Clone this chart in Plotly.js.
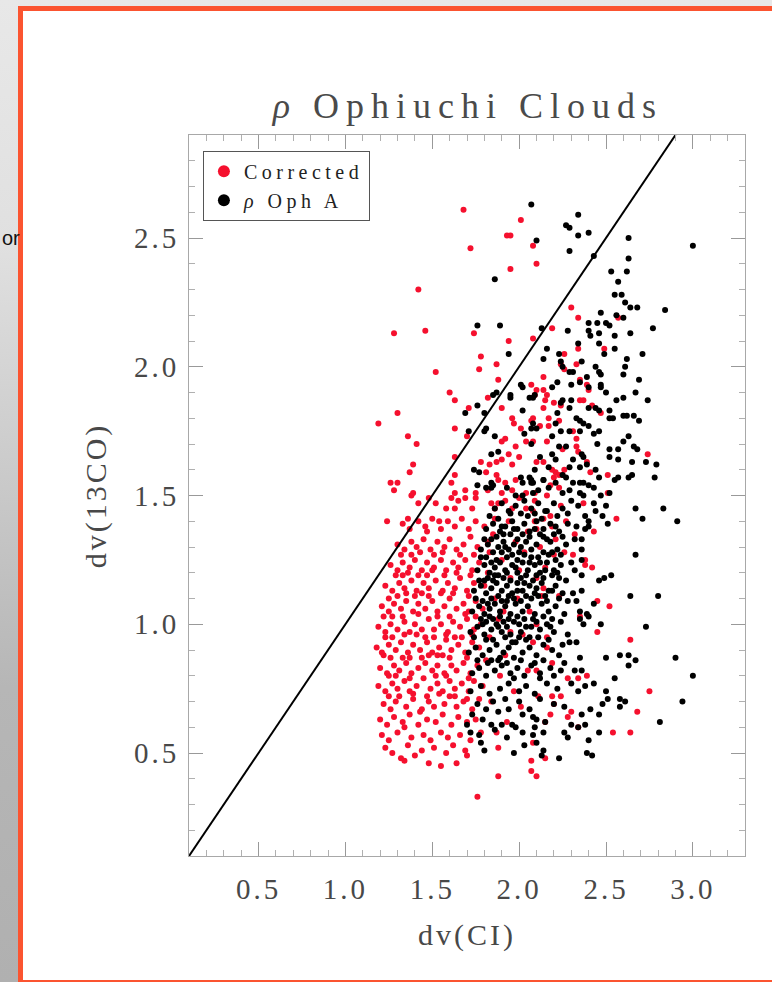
<!DOCTYPE html>
<html>
<head>
<meta charset="utf-8">
<script src="https://cdn.plot.ly/plotly-3.0.1.min.js"></script>
<style>
  html, body { margin: 0; padding: 0; width: 772px; height: 982px; overflow: hidden;
    background: linear-gradient(to bottom, #e8e8e8 0%, #e0e0e0 25%, #b6b6b6 70%, #b0b0b0 100%); }
  #frame { position: absolute; left: 18px; top: 6px; width: 800px; height: 979px;
    box-sizing: border-box; border: 5px solid #fb5430; background: #ffffff; }
  #chart { position: absolute; left: 0; top: 0; width: 772px; height: 982px; }
  .xtick text, .ytick text { letter-spacing: 3px; }
  .gtitle { letter-spacing: 7px; }
  .xtitle, .ytitle { letter-spacing: 3px; }
  .legendtext { letter-spacing: 4.5px; }
</style>
</head>
<body>
<div id="frame"></div>
<div id="chart"></div>
<script>
// dv(CI) vs dv(13CO) line widths, rho Ophiuchi clouds.
// Points are [dv(CI), dv(13CO)] in km/s.

// Corrected sample: scattered points above the main cloud
const correctedUpper = [
  [1.68,2.61],[2.01,2.57],[1.93,2.51],[1.95,2.51],[1.72,2.46],[2.08,2.47],[1.95,2.38],[2.10,2.40],
  [1.42,2.30],[1.28,2.13],[1.46,2.14],[1.74,2.13],[1.94,2.10],[2.08,2.11],[1.78,2.04],[1.77,1.99],
  [1.87,2.01],[1.52,1.98],[1.88,1.95],[1.60,1.90],[1.63,1.87],[1.82,1.88],[1.71,1.84],[1.30,1.82],
  [1.19,1.78],[1.63,1.76],[1.36,1.73],[1.41,1.70],[1.70,1.73],[1.63,1.65],[1.39,1.62],[1.37,1.59],
  [1.63,1.58],[1.26,1.55],[1.30,1.55],[1.28,1.52],[1.39,1.51],[1.61,1.55],
  [1.90,1.84],[1.96,1.80],[1.97,1.78],[2.01,1.76],[2.07,1.79],[2.04,1.71],[1.92,1.72],[1.90,1.71],
  [1.98,1.69],[1.94,1.66],[2.00,1.65],[1.83,1.62],[1.87,1.63],[1.90,1.64],[1.78,1.63],[1.96,1.62],
  [1.81,1.59],[1.87,1.58],[1.88,1.56],[1.92,1.55],[1.98,1.56],[1.96,1.52],[2.04,1.51],[1.82,1.52],
  [1.90,1.51],[1.75,1.51],[1.69,1.52],[1.63,1.51],
  [2.30,2.23],[2.34,2.19],[2.57,2.19],[2.19,2.15],[2.49,2.07],[2.34,2.07],[2.26,2.05],[2.24,2.01],
  [2.26,1.99],[2.33,2.01],[2.14,1.96],[2.35,1.95],[2.39,1.93],[2.40,1.91],[2.07,1.93],[2.10,1.91],
  [2.14,1.91],[2.16,1.89],[2.09,1.89],[2.15,1.87],[2.20,1.86],[2.24,1.85],[2.14,1.84],[2.35,1.87],
  [2.37,1.87],[2.42,1.85],[2.47,1.82],[2.23,1.79],[2.17,1.80],[2.08,1.80],[2.12,1.77],[2.17,1.77],
  [2.31,1.75],[2.33,1.72],[2.25,1.68],[2.33,1.69],[2.16,1.71],[2.08,1.71],[2.34,1.67],[2.39,1.63],
  [2.10,1.63],[2.14,1.63],[2.19,1.60],[2.21,1.59],[2.23,1.58],[2.25,1.58],[2.20,1.57],[2.26,1.60],
  [2.41,1.59],[2.74,1.66],[2.51,1.58],[2.51,1.51],[2.09,1.51],[2.16,1.50],[2.18,1.54],[2.23,1.53]
];

// Corrected sample: the main cloud and its lower fringe
const correctedCore = [
  [1.76,0.33],[1.88,0.41],[1.48,0.46],[1.55,0.45],[1.64,0.46],[1.32,0.48],[1.34,0.47],[1.58,0.50],[1.70,0.49],
  [1.23,0.52],[1.27,0.50],[1.36,0.53],[1.44,0.51],[1.51,0.52],[1.62,0.53],[1.69,0.51],[1.40,0.49],
  [1.21,0.57],[1.25,0.55],[1.30,0.58],[1.38,0.56],[1.45,0.57],[1.49,0.55],[1.55,0.58],[1.59,0.56],
  [1.66,0.57],[1.72,0.55],[1.78,0.58],[1.34,0.60],
  [1.20,0.63],[1.24,0.61],[1.28,0.64],[1.33,0.62],[1.37,0.65],[1.42,0.61],[1.47,0.63],[1.52,0.62],
  [1.56,0.65],[1.61,0.61],[1.65,0.64],[1.70,0.62],[1.75,0.63],[1.43,0.66],
  [1.22,0.69],[1.26,0.67],[1.29,0.70],[1.35,0.68],[1.39,0.71],[1.44,0.67],[1.48,0.70],[1.51,0.68],
  [1.57,0.69],[1.60,0.72],[1.64,0.68],[1.68,0.70],[1.73,0.67],[1.77,0.71],[1.31,0.72],[1.54,0.73],
  [1.25,0.72],[1.39,0.73],[1.47,0.72],[1.63,0.72],[1.70,0.71],
  [1.19,0.76],[1.23,0.74],[1.27,0.77],[1.30,0.75],[1.34,0.78],[1.37,0.74],[1.41,0.76],[1.45,0.79],
  [1.49,0.75],[1.53,0.77],[1.56,0.74],[1.60,0.78],[1.63,0.75],[1.67,0.77],[1.71,0.74],[1.74,0.78],
  [1.79,0.76],[1.25,0.80],
  [1.29,0.80],[1.37,0.79],[1.52,0.80],[1.58,0.80],[1.71,0.79],
  [1.20,0.83],[1.24,0.81],[1.28,0.84],[1.31,0.82],[1.35,0.85],[1.38,0.81],[1.42,0.83],[1.46,0.85],
  [1.50,0.82],[1.53,0.84],[1.57,0.81],[1.61,0.84],[1.64,0.82],[1.68,0.85],[1.72,0.81],[1.76,0.84],
  [1.33,0.87],[1.48,0.88],[1.22,0.88],
  [1.26,0.87],[1.37,0.87],[1.44,0.87],[1.53,0.88],[1.60,0.87],[1.70,0.87],
  [1.18,0.91],[1.21,0.89],[1.25,0.92],[1.29,0.90],[1.32,0.93],[1.36,0.89],[1.39,0.92],[1.43,0.90],
  [1.47,0.93],[1.50,0.89],[1.54,0.91],[1.58,0.94],[1.61,0.90],[1.65,0.92],[1.69,0.89],[1.73,0.93],
  [1.77,0.91],[1.27,0.95],[1.41,0.96],[1.56,0.88],[1.63,0.95],
  [1.23,0.95],[1.34,0.96],[1.51,0.95],[1.58,0.96],[1.73,0.96],
  [1.19,0.99],[1.23,0.97],[1.26,1.00],[1.30,0.98],[1.34,1.01],[1.37,0.97],[1.40,1.00],[1.44,0.98],
  [1.48,1.02],[1.51,0.98],[1.55,1.00],[1.59,0.97],[1.62,1.01],[1.66,0.99],[1.70,1.02],[1.74,0.98],
  [1.78,1.00],[1.22,1.03],[1.46,0.95],[1.67,0.95],
  [1.27,1.03],[1.33,1.03],[1.42,1.04],[1.53,1.03],[1.60,1.03],[1.69,1.04],[1.75,1.03],
  [1.21,1.07],[1.25,1.05],[1.28,1.08],[1.32,1.06],[1.35,1.09],[1.39,1.05],[1.42,1.08],[1.46,1.06],
  [1.50,1.09],[1.53,1.05],[1.57,1.07],[1.60,1.10],[1.64,1.06],[1.68,1.08],[1.71,1.05],[1.75,1.09],
  [1.30,1.11],[1.44,1.12],[1.55,1.12],[1.79,1.06],
  [1.25,1.10],[1.35,1.12],[1.40,1.11],[1.48,1.11],[1.62,1.12],[1.71,1.11],
  [1.23,1.15],[1.27,1.13],[1.31,1.16],[1.34,1.14],[1.38,1.17],[1.41,1.13],[1.45,1.16],[1.48,1.14],
  [1.52,1.17],[1.56,1.13],[1.59,1.16],[1.63,1.14],[1.66,1.18],[1.70,1.13],[1.74,1.16],[1.80,1.15],
  [1.36,1.20],[1.50,1.21],
  [1.29,1.19],[1.33,1.19],[1.42,1.19],[1.47,1.19],[1.57,1.19],[1.64,1.20],[1.72,1.19],
  [1.26,1.23],[1.30,1.21],[1.33,1.24],[1.37,1.22],[1.40,1.25],[1.44,1.21],[1.47,1.24],[1.51,1.22],
  [1.55,1.25],[1.58,1.21],[1.62,1.24],[1.65,1.22],[1.69,1.25],[1.73,1.21],[1.77,1.24],[1.43,1.28],
  [1.32,1.27],[1.38,1.27],[1.51,1.27],[1.56,1.28],[1.66,1.27],[1.74,1.27],
  [1.30,1.31],[1.34,1.29],[1.38,1.32],[1.41,1.30],[1.45,1.33],[1.49,1.29],[1.53,1.32],[1.57,1.30],
  [1.60,1.33],[1.64,1.29],[1.68,1.31],[1.72,1.34],[1.76,1.30],[1.82,1.32],[1.47,1.36],
  [1.33,1.39],[1.37,1.37],[1.42,1.40],[1.46,1.38],[1.50,1.41],[1.55,1.37],[1.59,1.40],[1.63,1.38],
  [1.67,1.41],[1.71,1.37],[1.75,1.40],[1.80,1.38],[1.86,1.41],
  [1.38,1.50],[1.42,1.47],[1.48,1.49],[1.52,1.47],[1.61,1.49],[1.65,1.48],[1.69,1.49],[1.75,1.49],
  [1.58,1.45],[1.63,1.45],[1.73,1.45],[1.84,1.47],[1.88,1.47],[1.92,1.48],[2.00,1.49],[2.04,1.45],
  [2.08,1.44],[1.36,1.41],[1.24,1.40],[1.54,1.40]
];

// Corrected sample: points mixed into the rho Oph A cloud and to its right
const correctedMixed = [
  [1.83,0.95],[1.88,1.02],[1.92,0.88],[1.86,1.10],[1.95,1.18],[1.90,1.25],[1.98,1.32],[2.03,1.28],
  [1.85,1.35],[1.94,1.40],[2.05,1.36],[2.12,1.30],[1.89,0.80],[1.97,0.74],[2.02,0.96],[2.06,1.05],
  [1.84,0.70],[1.93,0.62],[2.01,0.68],[1.82,1.20],[1.99,1.10],[2.15,1.22],[2.10,1.00],[1.87,0.58],
  [2.18,1.42],[2.21,1.33],[1.96,1.45],[2.24,1.46],[1.81,0.86],[1.91,1.05],[2.00,1.21],[1.86,1.45],
  [2.09,1.40],[1.95,0.97],[2.13,1.11],[1.83,1.28],[2.27,1.40],[2.05,0.82],[1.88,0.52],[2.16,0.95],
  [2.56,1.41],[2.43,1.36],[2.38,1.25],[2.38,1.23],[2.42,1.22],[2.45,1.09],[2.52,1.07],[2.35,1.03],
  [2.45,0.97],[2.64,0.94],[2.39,0.80],[2.34,0.79],[2.28,0.79],[2.75,0.74],[2.68,0.66],[2.54,0.58],
  [2.64,0.58],[2.30,0.66],[2.28,0.64],[2.34,0.60],[2.18,0.65],[2.15,0.62],[2.19,0.72],[2.24,0.72],
  [2.20,0.69],[2.11,0.72],[2.15,0.48],[2.07,0.47],[2.07,0.43],[2.10,0.41],[2.08,0.54],[2.09,1.48],
  [2.14,1.41],[2.10,1.37],[2.19,1.38],[2.26,1.28],[2.20,1.27],[2.10,1.18],[2.14,1.14],[2.23,1.11],
  [2.08,0.93],[2.16,0.91],[2.19,0.85],[2.10,0.82],[2.31,1.27],[2.37,1.47],[2.32,1.35]
];

// rho Oph A: upper branch along and right of the diagonal
const ophAUpper = [
  [2.07,2.63],[2.10,2.49],[1.86,2.34],[1.76,2.16],[1.89,2.16],[1.94,2.05],[2.01,1.93],[2.02,1.92],
  [1.95,1.89],[1.95,1.88],[1.85,1.89],[1.87,1.90],[2.08,1.88],[1.76,1.85],[2.02,1.83],[1.69,1.82],
  [1.80,1.82],[1.71,1.75],[1.80,1.75],[1.81,1.76],[1.86,1.73],[2.07,1.76],[2.10,1.76],[2.03,1.74],
  [1.88,1.67],[1.84,1.66],[1.74,1.60],[1.77,1.59],[2.01,1.57],[2.06,1.57],[2.07,1.56],[2.02,1.55],
  [2.08,1.55],[1.76,1.54],[1.84,1.55],[1.84,1.53],[1.85,1.54],[1.81,1.53],[1.98,1.50],[2.02,1.50],
  [2.08,1.51],
  [2.34,2.59],[2.27,2.55],[2.29,2.54],[2.34,2.51],[2.40,2.52],[2.63,2.50],[3.00,2.47],[2.29,2.45],
  [2.43,2.43],[2.63,2.42],[2.53,2.37],[2.62,2.37],[2.57,2.33],[2.55,2.28],[2.59,2.28],[2.61,2.25],
  [2.68,2.23],[2.64,2.23],[2.84,2.22],[2.47,2.21],[2.56,2.20],[2.60,2.19],[2.40,2.17],[2.45,2.17],
  [2.50,2.17],[2.52,2.16],[2.77,2.15],[2.13,2.15],[2.28,2.14],[2.40,2.14],[2.41,2.12],[2.46,2.13],
  [2.55,2.12],[2.64,2.13],[2.46,2.09],[2.34,2.09],[2.16,2.07],[2.55,2.07],[2.49,2.05],[2.23,2.05],
  [2.71,2.05],[2.14,2.03],[2.62,2.03],[2.36,2.02],[2.24,2.02],[2.25,2.00],[2.31,1.98],[2.29,1.98],
  [2.61,2.00],[2.44,2.00],[2.46,1.98],[2.47,1.97],[2.39,1.96],[2.35,1.94],[2.60,1.97],[2.69,1.95],
  [2.47,1.93],[2.47,1.92],[2.22,1.94],[2.19,1.92],[2.30,1.93],[2.50,1.90],[2.67,1.90],[2.40,1.92],
  [2.56,1.87],[2.60,1.88],[2.74,1.87],[2.25,1.87],[2.24,1.86],[2.30,1.87],[2.29,1.84],[2.09,1.89],
  [2.40,1.84],[2.44,1.84],[2.46,1.83],[2.52,1.83],[2.60,1.81],[2.62,1.81],[2.66,1.81],[2.69,1.79],
  [2.52,1.80],[2.54,1.80],[2.33,1.80],[2.35,1.79],[2.37,1.78],[2.40,1.77],[2.22,1.82],[2.21,1.78],
  [2.24,1.75],[2.19,1.73],[2.43,1.74],[2.46,1.75],[2.29,1.75],[2.35,1.75],[2.63,1.73],[2.60,1.71],
  [2.45,1.70],[2.52,1.68],[2.57,1.68],[2.66,1.69],[2.68,1.68],[2.23,1.69],[2.27,1.69],[2.36,1.66],
  [2.37,1.65],[2.52,1.65],[2.57,1.64],[2.65,1.63],[2.73,1.63],[2.79,1.62],[2.31,1.64],[2.35,1.61],
  [2.39,1.62],[2.44,1.60],[2.19,1.66],[2.21,1.64],[2.17,1.61],[2.25,1.58],[2.29,1.61],[2.46,1.57],
  [2.55,1.56],[2.57,1.57],[2.63,1.57],[2.65,1.58],[2.78,1.57],[2.35,1.55],[2.37,1.55],[2.40,1.54],
  [2.43,1.53],[2.29,1.52],[2.35,1.51],[2.37,1.50],[2.25,1.51],[2.52,1.51],[2.47,1.50],
  [2.06,1.88],[2.08,1.78],[2.07,1.70],[2.12,1.65],[2.09,1.60],[2.14,1.56],[2.07,1.55],[2.11,1.52]
];

// rho Oph A: sparse points right of the cloud and in the lower tail
const ophAOuter = [
  [2.67,1.45],[2.83,1.45],[2.71,1.41],[2.91,1.40],[2.50,1.46],[2.51,1.39],[2.48,1.42],[2.43,1.47],
  [2.44,1.44],[2.38,1.42],[2.40,1.40],[2.40,1.38],[2.38,1.37],[2.36,1.33],[2.32,1.33],[2.67,1.27],
  [2.46,1.17],[2.49,1.18],[2.53,1.19],[2.64,1.11],[2.80,1.11],[2.43,1.08],[2.36,1.29],[2.36,1.25],
  [2.30,1.24],[2.36,1.19],[2.31,1.12],[2.36,1.13],[2.32,1.21],[2.33,1.09],[2.35,1.05],[2.39,1.04],
  [2.35,1.02],[2.37,1.00],[2.40,1.03],[2.47,1.00],[2.73,0.99],[2.28,0.96],[2.29,0.93],[2.33,0.93],
  [2.35,0.87],[2.50,0.87],[2.58,0.88],[2.63,0.88],[2.67,0.86],[2.63,0.84],[2.90,0.87],[3.00,0.80],
  [2.55,0.79],[2.32,0.82],[2.36,0.82],[2.38,0.76],[2.43,0.77],[2.24,0.82],[2.26,0.85],[2.30,0.77],
  [2.50,0.74],[2.51,0.71],[2.48,0.69],[2.58,0.71],[2.61,0.70],[2.58,0.68],[2.41,0.67],[2.46,0.65],
  [2.36,0.65],[2.30,0.61],[2.38,0.61],[2.34,0.60],[2.94,0.70],[2.81,0.62],[2.46,0.58],[2.40,0.55],
  [2.28,0.56],[2.39,0.50],[2.42,0.49],[2.23,0.48],[2.14,0.51],[2.13,0.49],[2.14,0.58],[2.09,0.60],
  [2.10,0.63],[2.15,0.62],[2.08,0.64]
];

// rho Oph A: the dense main cloud
const ophACore = [
  [1.80,0.51],[1.97,0.50],[2.03,0.53],[2.10,0.54],[1.78,0.54],
  [1.72,0.58],[1.77,0.57],[1.86,0.59],[2.08,0.57],[2.02,0.58],[1.70,0.61],[1.84,0.61],[1.90,0.61],
  [1.96,0.61],[1.98,0.60],[2.26,0.58],[1.93,0.56],
  [1.73,0.65],[1.81,0.67],[1.88,0.66],[1.94,0.67],[2.02,0.65],[2.06,0.67],[1.76,0.69],[1.85,0.70],
  [1.92,0.71],[2.00,0.70],[2.12,0.71],[2.20,0.69],[2.26,0.68],[1.79,0.63],
  [1.72,0.74],[1.78,0.76],[1.83,0.73],[1.89,0.75],[1.94,0.77],[2.00,0.74],[2.04,0.76],[2.09,0.73],
  [2.16,0.77],[2.22,0.75],[2.34,0.74],[1.97,0.79],[2.12,0.79],
  [1.73,0.81],[1.77,0.83],[1.81,0.80],[1.86,0.82],[1.90,0.84],[1.95,0.81],[1.99,0.83],[2.03,0.80],
  [2.07,0.84],[2.12,0.81],[2.18,0.83],[1.84,0.86],[1.97,0.87],[2.14,0.86],[2.20,0.80],
  [1.76,0.86],[1.82,0.85],[1.88,0.86],[1.93,0.85],[2.01,0.86],[2.09,0.85],
  [1.71,0.89],[1.75,0.91],[1.79,0.88],[1.83,0.90],[1.87,0.92],[1.91,0.89],[1.94,0.91],[1.98,0.93],
  [2.02,0.89],[2.06,0.91],[2.10,0.88],[2.14,0.92],[2.19,0.90],[2.23,0.88],[1.81,0.94],[2.00,0.95],
  [1.89,0.87],[2.25,0.92],
  [1.74,0.95],[1.85,0.94],[1.92,0.95],[1.96,0.93],[2.04,0.94],[2.11,0.95],[2.17,0.94],
  [1.72,0.97],[1.76,0.99],[1.80,0.96],[1.84,0.98],[1.87,1.00],[1.90,0.97],[1.93,0.99],[1.97,1.01],
  [2.01,0.97],[2.04,0.99],[2.08,1.02],[2.12,0.98],[2.16,1.00],[2.20,0.97],[2.24,1.01],[1.89,1.03],
  [2.06,0.95],[1.95,0.96],[1.78,1.02],
  [1.79,1.00],[1.83,1.03],[1.88,0.99],[1.94,1.02],[2.00,1.00],[2.07,0.99],[2.14,1.03],[2.18,0.99],
  [1.81,1.01],[1.85,1.02],[1.91,1.01],[1.99,1.03],[2.03,1.02],[2.10,1.01],[2.19,1.02],
  [1.73,1.05],[1.77,1.07],[1.80,1.04],[1.83,1.06],[1.86,1.08],[1.89,1.05],[1.92,1.07],[1.95,1.04],
  [1.98,1.08],[2.02,1.05],[2.05,1.07],[2.09,1.04],[2.13,1.08],[2.17,1.05],[2.21,1.07],[2.26,1.04],
  [1.94,1.11],[2.11,1.11],[2.28,1.09],[1.75,1.10],
  [1.82,1.08],[1.88,1.11],[1.93,1.09],[1.99,1.13],[2.04,1.11],[2.10,1.14],[2.15,1.11],[2.19,1.13],
  [1.79,1.09],[1.84,1.10],[1.90,1.09],[1.97,1.10],[2.01,1.09],[2.07,1.10],[2.16,1.09],[2.23,1.10],
  [1.74,1.13],[1.78,1.15],[1.81,1.12],[1.84,1.14],[1.87,1.16],[1.90,1.13],[1.93,1.15],[1.96,1.12],
  [1.99,1.16],[2.02,1.13],[2.06,1.15],[2.09,1.12],[2.13,1.16],[2.17,1.13],[2.21,1.15],[2.25,1.12],
  [1.88,1.19],[2.04,1.19],[2.19,1.19],[2.27,1.17],
  [1.77,1.17],[1.82,1.18],[1.85,1.17],[1.91,1.18],[1.95,1.17],[2.01,1.18],[2.08,1.17],[2.14,1.18],
  [2.23,1.18],
  [1.80,1.17],[1.86,1.19],[1.93,1.20],[1.98,1.22],[2.03,1.16],[2.10,1.19],[2.15,1.21],[2.22,1.20],
  [1.76,1.21],[1.80,1.23],[1.83,1.20],[1.86,1.22],[1.89,1.24],[1.92,1.21],[1.96,1.23],[1.99,1.20],
  [2.02,1.24],[2.05,1.21],[2.09,1.23],[2.12,1.20],[2.16,1.24],[2.20,1.21],[2.24,1.23],[1.78,1.26],
  [2.07,1.26],
  [1.81,1.26],[1.87,1.25],[1.93,1.26],[1.99,1.25],[2.03,1.27],[2.11,1.26],[2.17,1.27],[2.21,1.25],
  [1.84,1.24],[1.90,1.28],[1.96,1.27],[2.01,1.30],[2.06,1.24],[2.12,1.24],[2.19,1.28],[2.24,1.27],
  [1.78,1.29],[1.82,1.31],[1.85,1.28],[1.88,1.30],[1.91,1.32],[1.94,1.29],[1.97,1.31],[2.00,1.28],
  [2.04,1.32],[2.07,1.29],[2.10,1.31],[2.14,1.28],[2.18,1.32],[2.22,1.29],[2.27,1.31],[1.95,1.35],
  [2.12,1.35],[2.25,1.34],
  [1.80,1.33],[1.87,1.34],[1.91,1.35],[1.99,1.33],[2.06,1.34],[2.16,1.33],[2.20,1.35],
  [1.84,1.33],[1.90,1.38],[1.97,1.37],[2.02,1.35],[2.09,1.37],[2.14,1.34],[2.21,1.38],[1.92,1.30],
  [1.81,1.37],[1.85,1.39],[1.89,1.36],[1.92,1.38],[1.96,1.40],[1.99,1.37],[2.03,1.39],[2.06,1.36],
  [2.10,1.40],[2.14,1.37],[2.18,1.39],[2.23,1.36],[2.28,1.39],[2.01,1.43],[2.16,1.44],[2.33,1.38],
  [1.83,1.42],[1.88,1.41],[1.95,1.43],[2.05,1.42],[2.09,1.43],[2.13,1.41],[2.22,1.42],
  [1.86,1.45],[1.90,1.47],[1.94,1.44],[1.98,1.46],[2.03,1.48],[2.07,1.45],[2.11,1.47],[2.15,1.44],
  [2.20,1.47],[2.25,1.45],[2.30,1.48],[2.34,1.46],[2.28,1.43],
  [1.93,1.53],[2.17,1.53],[2.21,1.55],[2.31,1.55],[2.27,1.57],[2.14,1.56]
];

// Reference diagonal dv(13CO) = dv(CI)
const diagonalX = [0.1, 2.9];
const diagonalY = [0.1, 2.9];

// Axis ticks
const xTickVals = [0.5, 1.0, 1.5, 2.0, 2.5, 3.0];
const xTickText = ['0.5', '1.0', '1.5', '2.0', '2.5', '3.0'];
const yTickVals = [0.5, 1.0, 1.5, 2.0, 2.5];
const yTickText = ['0.5', '1.0', '1.5', '2.0', '2.5'];

const SERIF = '"Liberation Serif", "DejaVu Serif", serif';

const corrected = correctedUpper.concat(correctedCore, correctedMixed);
const ophA = ophAUpper.concat(ophAOuter, ophACore);

const traces = [
  {
    type: 'scatter', mode: 'markers', name: 'Corrected',
    x: corrected.map(p => p[0]), y: corrected.map(p => p[1]),
    marker: { color: '#f5102e', size: 6, line: { width: 0 } }
  },
  {
    type: 'scatter', mode: 'markers', name: '<i>ρ</i> Oph A',
    x: ophA.map(p => p[0]), y: ophA.map(p => p[1]),
    marker: { color: '#000000', size: 6, line: { width: 0 } }
  },
  {
    type: 'scatter', mode: 'lines', showlegend: false,
    x: diagonalX, y: diagonalY,
    line: { color: '#000000', width: 2 }
  }
];

const axisCommon = {
  ticks: 'inside', ticklen: 14, tickwidth: 1, tickcolor: '#999999',
  showline: true, linecolor: '#a8a8a8', linewidth: 1, mirror: 'allticks',
  showgrid: false, zeroline: false, fixedrange: true,
  tickfont: { family: SERIF, size: 29, color: '#484848' },
  minor: { dtick: 0.1, tick0: 0, ticks: 'inside', ticklen: 6, tickwidth: 1, tickcolor: '#b0b0b0', showgrid: false }
};

const layout = {
  width: 772, height: 982,
  margin: { l: 189, r: 27, t: 135, b: 126, pad: 0 },
  paper_bgcolor: 'rgba(0,0,0,0)',
  plot_bgcolor: '#ffffff',
  font: { family: SERIF, color: '#444444' },
  title: {
    text: '<i>ρ</i> Ophiuchi Clouds',
    font: { family: SERIF, size: 36, color: '#4a4a4a' },
    xref: 'container', yref: 'container',
    x: 0.606, xanchor: 'center', y: 0.893, yanchor: 'middle'
  },
  showlegend: true,
  legend: {
    x: 0.025, y: 0.978, xanchor: 'left', yanchor: 'top',
    bgcolor: '#ffffff', bordercolor: '#555555', borderwidth: 1,
    font: { family: SERIF, size: 20, color: '#222222' },
    itemsizing: 'constant', tracegroupgap: 0
  },
  xaxis: Object.assign({}, axisCommon, {
    range: [0.1, 3.3], tickmode: 'array', tickvals: xTickVals, ticktext: xTickText,
    ticklabelstandoff: 7,
    title: { text: 'dv(CI)', font: { family: SERIF, size: 30, color: '#484848' }, standoff: 20 }
  }),
  yaxis: Object.assign({}, axisCommon, {
    range: [0.1, 2.9], tickmode: 'array', tickvals: yTickVals, ticktext: yTickText,
    ticklabelstandoff: 3,
    title: { text: 'dv(13CO)', font: { family: SERIF, size: 30, color: '#484848' }, standoff: 18 }
  }),
  annotations: [
    {
      xref: 'paper', yref: 'paper', x: -0.338, y: 0.857,
      xanchor: 'left', yanchor: 'middle', showarrow: false, borderpad: 0,
      text: 'or', font: { family: '"Liberation Sans", Arial, sans-serif', size: 20, color: '#111111' }
    }
  ]
};

Plotly.newPlot('chart', traces, layout, { staticPlot: true, displayModeBar: false });
</script>
</body>
</html>
